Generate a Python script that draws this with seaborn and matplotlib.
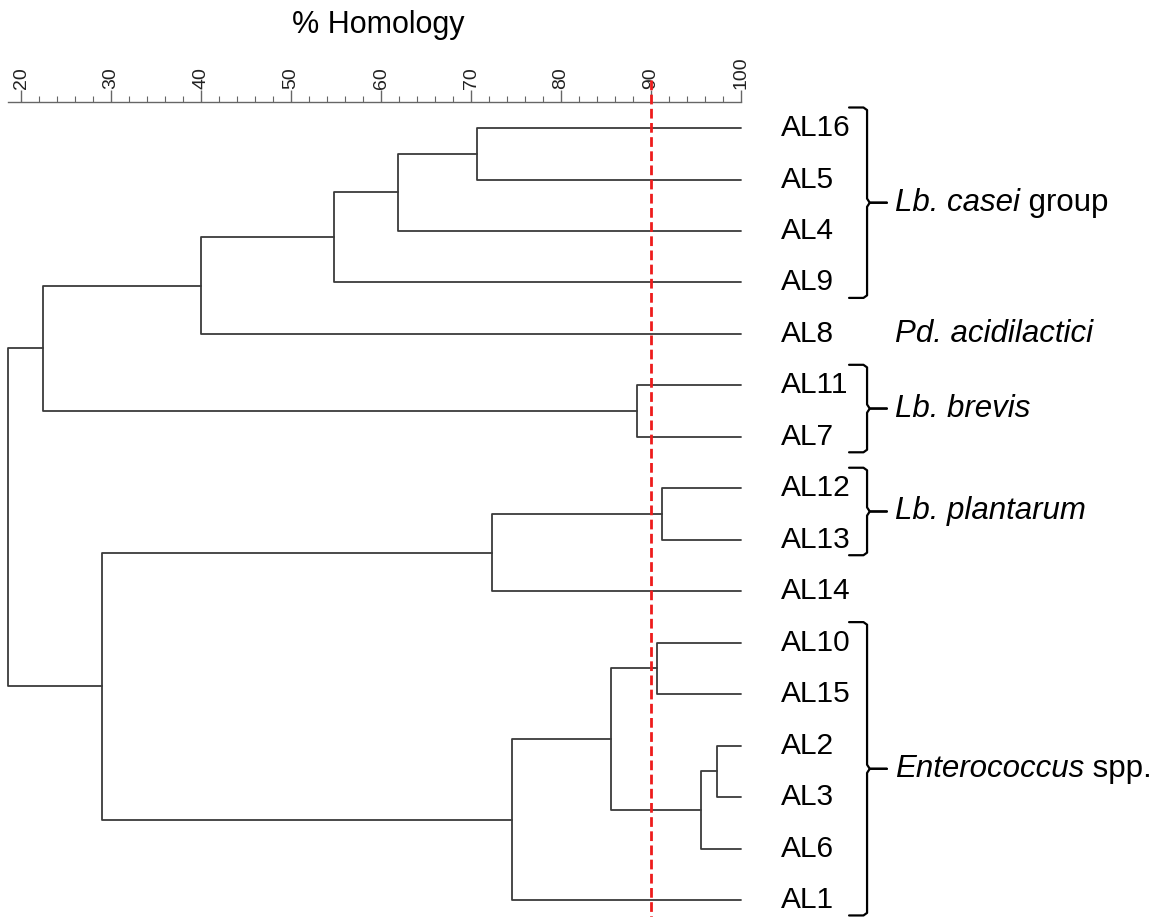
import numpy as np
import pandas as pd
import matplotlib
matplotlib.use("Agg")
import matplotlib.pyplot as plt
import seaborn as sns

# --- data ---
leaves = ["AL16", "AL5", "AL4", "AL9", "AL8", "AL11", "AL7", "AL12", "AL13",
          "AL14", "AL10", "AL15", "AL2", "AL3", "AL6", "AL1"]
# merges (linkage style): ids < 16 are leaves, >= 16 are earlier merges
merge_left = [0, 16, 17, 18, 5, 19, 7, 22, 10, 12, 25, 24, 27, 23, 21]
merge_right = [1, 2, 3, 4, 6, 20, 8, 9, 11, 13, 14, 26, 15, 28, 29]
merge_homology = [70.7, 61.9, 54.8, 40.0, 88.4, 22.4, 91.2, 72.3, 90.7,
                  97.3, 95.5, 85.6, 74.5, 29.0, 18.6]
cutoff = 90

group_names = ["Lb. casei", "Pd. acidilactici", "Lb. brevis", "Lb. plantarum", "Enterococcus"]
group_suffix = [" group", "", "", "", " spp."]
group_first = ["AL16", "AL8", "AL11", "AL12", "AL10"]
group_last = ["AL9", "AL8", "AL7", "AL13", "AL1"]

# --- build segment table ---
n = len(leaves)
node_x = {i: 100.0 for i in range(n)}
node_y = {i: float(i) for i in range(n)}
rows = []
for k, (a, b, h) in enumerate(zip(merge_left, merge_right, merge_homology)):
    nid = n + k
    node_x[nid] = h
    node_y[nid] = (node_y[a] + node_y[b]) / 2
    pts = [(node_x[a], node_y[a]), (h, node_y[a]), (h, node_y[b]), (node_x[b], node_y[b])]
    for i, (x, y) in enumerate(pts):
        rows.append({"seg": k, "order": i, "x": x, "y": y})
seg_df = pd.DataFrame(rows)

sns.set_theme(style="white")
plt.rcParams["font.family"] = ["Liberation Sans", "DejaVu Sans"]
plt.rcParams["text.color"] = "black"

fig = plt.figure(figsize=(11.62, 9.17), dpi=100)
ax = fig.add_axes([0.00724, 0.0, 0.6305, 0.889])

sns.lineplot(data=seg_df, x="x", y="y", units="seg", estimator=None, sort=False,
             color="#3a3a3a", linewidth=1.3, legend=False, ax=ax)
for line in ax.lines:
    line.set_clip_on(False)

ax.set_xlim(18.6, 100)
ax.set_ylim(15.33, -0.511)
ax.set_xlabel("")
ax.set_ylabel("")

# top axis
for s in ["left", "right", "bottom"]:
    ax.spines[s].set_visible(False)
ax.spines["top"].set_color("#666666")
ax.spines["top"].set_linewidth(1.0)
ax.xaxis.tick_top()
ax.set_xticks(np.arange(20, 101, 10))
ax.set_xticks(np.arange(20, 101, 2), minor=True)
ax.set_yticks([])
ax.tick_params(axis="x", which="major", direction="out", length=8.6, width=1.0,
               color="#666666", labelsize=14, pad=0.5, labelrotation=90,
               top=True, bottom=False, labeltop=True, labelbottom=False,
               labelcolor="#222222")
ax.tick_params(axis="x", which="minor", direction="out", length=4.3, width=0.8,
               color="#666666", top=True, bottom=False)

fig.text(378 / 1162, 1 - 25 / 917, "% Homology", ha="center", va="center", fontsize=22)

# cutoff line
ax.plot([cutoff, cutoff], [-0.93, 15.4], color="#ee1c1c", lw=2.0,
        ls=(0, (3.5, 1.6)), clip_on=False, zorder=5)

# leaf labels
for i, name in enumerate(leaves):
    ax.text(104.4, i, name, fontsize=21.5, va="center", ha="left", clip_on=False)

# group brackets and names
for name, suf, first, last in zip(group_names, group_suffix, group_first, group_last):
    i0, i1 = leaves.index(first), leaves.index(last)
    mid = (i0 + i1) / 2
    if i0 != i1:
        top, bot = i0 - 0.4, i1 + 0.3
        mid = (top + bot) / 2
        bx = [112.0, 113.6, 114.0, 114.0, 114.3, 116.2]
        ax.plot(bx, [top, top, top + 0.05, mid - 0.08, mid, mid], color="black",
                lw=1.6, clip_on=False, solid_joinstyle="round")
        ax.plot(bx, [bot, bot, bot - 0.05, mid + 0.08, mid, mid], color="black",
                lw=1.6, clip_on=False, solid_joinstyle="round")
    t1 = ax.text(117.1, mid, name, style="italic", fontsize=22.5, va="center",
                 ha="left", clip_on=False)
    if suf:
        ax.annotate(suf, xy=(1, 0), xycoords=t1, va="bottom", ha="left", fontsize=22.5)

fig.savefig("out.png", dpi=100)
